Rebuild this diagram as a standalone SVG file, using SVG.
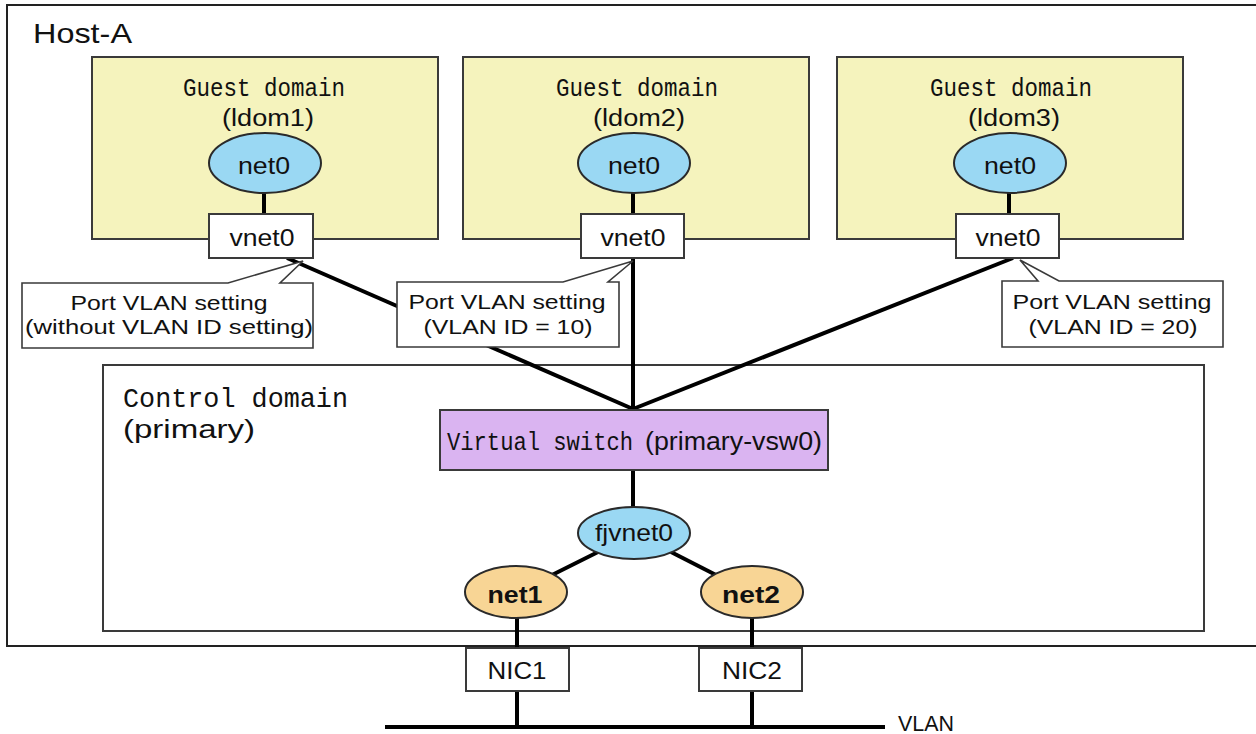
<svg xmlns="http://www.w3.org/2000/svg" width="1256" height="734" viewBox="0 0 1256 734">
<style>
.box{fill:#fff;stroke:#3a3a3a;stroke-width:2}
.guest{fill:#f5f3bd;stroke:#3a3a3a;stroke-width:2}
.blue{fill:#9ad8f3;stroke:#2a2a2a;stroke-width:2}
.orange{fill:#f8d595;stroke:#2a2a2a;stroke-width:2}
.purple{fill:#dab4f1;stroke:#3a3a3a;stroke-width:2}
.wire{stroke:#000;stroke-width:4;fill:none}
.thin{fill:#fff;stroke:#3a3a3a;stroke-width:1.6}
.sans{font-family:"Liberation Sans",Arial,sans-serif;fill:#111}
.mono{font-family:"Liberation Mono","DejaVu Sans Mono",monospace;fill:#111}
.mid{text-anchor:middle}
</style>
<rect width="1256" height="734" fill="#fff"/>

<g id="host-a">
<rect x="7" y="5" width="1262" height="641" fill="none" stroke="#222" stroke-width="2"/>
<text class="sans" x="33" y="43" font-size="28" textLength="99" lengthAdjust="spacingAndGlyphs">Host-A</text>
</g>

<g id="guest1">
<rect class="guest" x="92" y="57" width="346" height="182"/>
<text class="mono" x="183" y="96" font-size="25" textLength="162" lengthAdjust="spacingAndGlyphs">Guest domain</text>
<text class="sans mid" x="268" y="126" font-size="23" textLength="92" lengthAdjust="spacingAndGlyphs">(ldom1)</text>
</g>
<g id="guest2">
<rect class="guest" x="463" y="57" width="346" height="182"/>
<text class="mono" x="556" y="96" font-size="25" textLength="162" lengthAdjust="spacingAndGlyphs">Guest domain</text>
<text class="sans mid" x="639" y="126" font-size="23" textLength="92" lengthAdjust="spacingAndGlyphs">(ldom2)</text>
</g>
<g id="guest3">
<rect class="guest" x="837" y="57" width="346" height="182"/>
<text class="mono" x="930" y="96" font-size="25" textLength="162" lengthAdjust="spacingAndGlyphs">Guest domain</text>
<text class="sans mid" x="1014" y="126" font-size="23" textLength="92" lengthAdjust="spacingAndGlyphs">(ldom3)</text>
</g>

<g id="control-domain">
<rect class="box" x="103" y="365" width="1101" height="266"/>
<text class="mono" x="123" y="407" font-size="28" textLength="225" lengthAdjust="spacingAndGlyphs">Control domain</text>
<text class="sans" x="123" y="438" font-size="26" textLength="132" lengthAdjust="spacingAndGlyphs">(primary)</text>
</g>

<g id="connectors">
<line class="wire" x1="264" y1="192" x2="264" y2="215"/>
<line class="wire" x1="633" y1="192" x2="633" y2="215"/>
<line class="wire" x1="1009" y1="192" x2="1009" y2="215"/>
<line class="wire" x1="287" y1="258" x2="633" y2="409"/>
<line class="wire" x1="633" y1="258" x2="633" y2="411"/>
<line class="wire" x1="1013" y1="258" x2="633" y2="409"/>
<line class="wire" x1="633" y1="470" x2="633" y2="508"/>
<line class="wire" x1="598" y1="552" x2="552" y2="575"/>
<line class="wire" x1="671" y1="552" x2="716" y2="575"/>
<line class="wire" x1="517" y1="617" x2="517" y2="648"/>
<line class="wire" x1="752" y1="617" x2="752" y2="648"/>
<line class="wire" x1="517" y1="691" x2="517" y2="727"/>
<line class="wire" x1="752" y1="691" x2="752" y2="727"/>
<line class="wire" x1="385" y1="727" x2="885" y2="727"/>
</g>

<g id="net0-1">
<ellipse class="blue" cx="265" cy="163" rx="56" ry="30"/>
<text class="sans mid" x="264" y="174" font-size="24" textLength="52" lengthAdjust="spacingAndGlyphs">net0</text>
</g>
<g id="net0-2">
<ellipse class="blue" cx="634" cy="163" rx="56" ry="30"/>
<text class="sans mid" x="634" y="174" font-size="24" textLength="52" lengthAdjust="spacingAndGlyphs">net0</text>
</g>
<g id="net0-3">
<ellipse class="blue" cx="1010" cy="163" rx="56" ry="30"/>
<text class="sans mid" x="1010" y="174" font-size="24" textLength="52" lengthAdjust="spacingAndGlyphs">net0</text>
</g>

<g id="vnet0-1">
<rect class="box" x="209" y="214" width="104" height="44"/>
<text class="sans mid" x="262" y="246" font-size="24" textLength="65" lengthAdjust="spacingAndGlyphs">vnet0</text>
</g>
<g id="vnet0-2">
<rect class="box" x="581" y="214" width="103" height="44"/>
<text class="sans mid" x="633" y="246" font-size="24" textLength="65" lengthAdjust="spacingAndGlyphs">vnet0</text>
</g>
<g id="vnet0-3">
<rect class="box" x="956" y="214" width="103" height="44"/>
<text class="sans mid" x="1008" y="246" font-size="24" textLength="65" lengthAdjust="spacingAndGlyphs">vnet0</text>
</g>

<g id="virtual-switch">
<rect class="purple" x="440" y="410" width="388" height="60"/>
<text x="447" y="450" font-size="25"><tspan class="mono" textLength="186" lengthAdjust="spacingAndGlyphs">Virtual switch</tspan><tspan class="sans" x="645" textLength="177" lengthAdjust="spacingAndGlyphs">(primary-vsw0)</tspan></text>
</g>

<g id="fjvnet0">
<ellipse class="blue" cx="634" cy="533" rx="56" ry="26"/>
<text class="sans mid" x="634" y="541" font-size="24" textLength="78" lengthAdjust="spacingAndGlyphs">fjvnet0</text>
</g>
<g id="net1">
<ellipse class="orange" cx="516" cy="592" rx="51" ry="26"/>
<text class="sans mid" x="515" y="603" font-size="24" font-weight="bold" textLength="55" lengthAdjust="spacingAndGlyphs">net1</text>
</g>
<g id="net2">
<ellipse class="orange" cx="752" cy="592" rx="51" ry="26"/>
<text class="sans mid" x="751" y="603" font-size="24" font-weight="bold" textLength="58" lengthAdjust="spacingAndGlyphs">net2</text>
</g>

<g id="nic1">
<rect class="box" x="466" y="648" width="103" height="43"/>
<text class="sans mid" x="517" y="679" font-size="24" textLength="59" lengthAdjust="spacingAndGlyphs">NIC1</text>
</g>
<g id="nic2">
<rect class="box" x="699" y="648" width="103" height="43"/>
<text class="sans mid" x="752" y="679" font-size="24" textLength="60" lengthAdjust="spacingAndGlyphs">NIC2</text>
</g>

<g id="vlan-label">
<text class="sans" x="898" y="731" font-size="22" textLength="56" lengthAdjust="spacingAndGlyphs">VLAN</text>
</g>

<g id="callout1">
<path class="thin" d="M22,283 L228,283 L303,261 L280,283 L313,283 L313,348 L22,348 Z"/>
<text class="sans mid" x="169" y="310" font-size="21" textLength="197" lengthAdjust="spacingAndGlyphs">Port VLAN setting</text>
<text class="sans mid" x="169" y="334" font-size="21" textLength="288" lengthAdjust="spacingAndGlyphs">(without VLAN ID setting)</text>
</g>
<g id="callout2">
<path class="thin" d="M397,282 L563,282 L633,261 L608,282 L619,282 L619,347 L397,347 Z"/>
<text class="sans mid" x="507" y="309" font-size="21" textLength="197" lengthAdjust="spacingAndGlyphs">Port VLAN setting</text>
<text class="sans mid" x="508" y="334" font-size="21" textLength="169" lengthAdjust="spacingAndGlyphs">(VLAN ID = 10)</text>
</g>
<g id="callout3">
<path class="thin" d="M1002,281 L1038,281 L1020,260 L1059,281 L1223,281 L1223,347 L1002,347 Z"/>
<text class="sans mid" x="1112" y="309" font-size="21" textLength="199" lengthAdjust="spacingAndGlyphs">Port VLAN setting</text>
<text class="sans mid" x="1113" y="334" font-size="21" textLength="169" lengthAdjust="spacingAndGlyphs">(VLAN ID = 20)</text>
</g>
</svg>
